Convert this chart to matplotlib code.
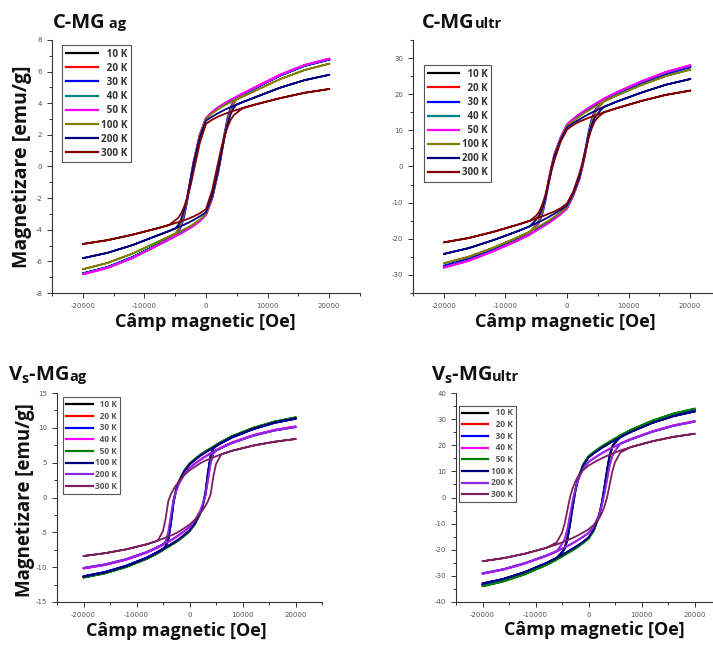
import matplotlib.pyplot as plt
from matplotlib.ticker import MultipleLocator

plt.rcParams['font.family'] = ['Open Sans', 'DejaVu Sans']
plt.rcParams['axes.unicode_minus'] = False
plt.rcParams['mathtext.fontset'] = 'custom'
plt.rcParams['mathtext.rm'] = 'Open Sans'
plt.rcParams['mathtext.bf'] = 'Open Sans:bold'

# field values of the descending branch (Oe); the returning branch is its mirror image
field = [20000, 16000, 12000, 8000, 6000, 5000, 4000, 3000, 2000, 1000, 0,
         -1000, -2000, -2500, -3000, -3500, -4000, -4500, -5000, -6000,
         -8000, -12000, -16000, -20000]

labels = ["10 K", "20 K", "30 K", "40 K", "50 K", "100 K", "200 K", "300 K"]
colors_c = ["black", "#ff0000", "#0000ff", "#008080", "#ff00ff", "#808000", "#000080", "#800000"]
colors_v = ["black", "#ff0000", "#0000ff", "#ff00ff", "#008000", "#000080", "#8a2be2", "#7b1f5e"]

# C-MG ag, magnetization on the descending branch (emu/g)
c_ag_10 = [6.80, 6.40, 5.78, 5.00, 4.60, 4.40, 4.20, 3.98, 3.74, 3.44, 3.05, 2.00, 0.30, -0.80, -1.90, -2.90, -3.60, -4.10, -4.40, -4.60, -5.00, -5.78, -6.40, -6.80]
c_ag_20 = [6.78, 6.38, 5.76, 4.98, 4.58, 4.38, 4.18, 3.96, 3.72, 3.42, 3.04, 2.02, 0.32, -0.78, -1.88, -2.88, -3.58, -4.08, -4.38, -4.58, -4.98, -5.76, -6.38, -6.78]
c_ag_30 = [6.76, 6.36, 5.74, 4.96, 4.56, 4.36, 4.16, 3.95, 3.71, 3.40, 3.00, 1.90, 0.10, -1.00, -2.10, -3.10, -3.75, -4.15, -4.36, -4.56, -4.96, -5.74, -6.36, -6.76]
c_ag_40 = [6.79, 6.39, 5.77, 4.99, 4.59, 4.39, 4.19, 3.97, 3.73, 3.43, 3.05, 2.01, 0.31, -0.79, -1.89, -2.89, -3.59, -4.09, -4.39, -4.59, -4.99, -5.77, -6.39, -6.79]
c_ag_50 = [6.82, 6.42, 5.80, 5.02, 4.62, 4.42, 4.22, 4.00, 3.76, 3.46, 3.07, 2.03, 0.33, -0.77, -1.87, -2.87, -3.57, -4.07, -4.42, -4.62, -5.02, -5.80, -6.42, -6.82]
c_ag_100 = [6.50, 6.10, 5.52, 4.80, 4.43, 4.25, 4.06, 3.86, 3.63, 3.35, 3.00, 1.95, 0.25, -0.85, -1.90, -2.85, -3.50, -3.95, -4.25, -4.43, -4.80, -5.52, -6.10, -6.50]
c_ag_200 = [5.80, 5.46, 4.98, 4.38, 4.08, 3.92, 3.76, 3.58, 3.38, 3.15, 2.90, 1.85, 0.20, -0.85, -1.85, -2.70, -3.30, -3.70, -3.92, -4.08, -4.38, -4.98, -5.46, -5.80]
c_ag_300 = [4.90, 4.66, 4.32, 3.92, 3.70, 3.58, 3.46, 3.32, 3.16, 2.96, 2.70, 1.50, -0.30, -1.20, -1.90, -2.50, -2.95, -3.25, -3.40, -3.70, -3.92, -4.32, -4.66, -4.90]

# C-MG ultr
c_ul_10 = [27.8, 25.9, 23.3, 20.3, 18.6, 17.6, 16.6, 15.5, 14.3, 13.0, 11.5, 8.0, 3.5, 0.0, -4.0, -8.5, -12.5, -15.0, -16.5, -18.6, -20.3, -23.3, -25.9, -27.8]
c_ul_20 = [27.7, 25.8, 23.2, 20.2, 18.5, 17.5, 16.5, 15.4, 14.2, 12.9, 11.4, 7.9, 3.4, -0.1, -4.1, -8.6, -12.6, -15.0, -16.4, -18.5, -20.2, -23.2, -25.8, -27.7]
c_ul_30 = [27.5, 25.6, 23.0, 20.0, 18.3, 17.3, 16.3, 15.2, 14.0, 12.7, 11.2, 7.5, 2.8, -0.8, -5.0, -9.5, -13.2, -15.4, -16.6, -18.3, -20.0, -23.0, -25.6, -27.5]
c_ul_40 = [27.9, 26.0, 23.4, 20.4, 18.7, 17.7, 16.7, 15.6, 14.4, 13.1, 11.6, 8.1, 3.6, 0.1, -3.9, -8.4, -12.4, -15.0, -16.6, -18.7, -20.4, -23.4, -26.0, -27.9]
c_ul_50 = [28.0, 26.1, 23.5, 20.5, 18.8, 17.8, 16.8, 15.7, 14.5, 13.2, 11.7, 8.2, 3.7, 0.2, -3.8, -8.3, -12.3, -15.0, -16.7, -18.8, -20.5, -23.5, -26.1, -28.0]
c_ul_100 = [26.8, 25.0, 22.5, 19.6, 18.0, 17.0, 16.0, 15.0, 13.8, 12.6, 11.2, 7.8, 3.3, -0.2, -4.2, -8.6, -12.4, -14.7, -16.0, -18.0, -19.6, -22.5, -25.0, -26.8]
c_ul_200 = [24.2, 22.6, 20.4, 17.9, 16.5, 15.7, 14.9, 14.0, 13.0, 12.0, 10.8, 7.5, 3.0, -0.5, -4.5, -8.5, -11.5, -13.5, -14.7, -16.5, -17.9, -20.4, -22.6, -24.2]
c_ul_300 = [21.0, 19.8, 18.1, 16.1, 15.0, 14.4, 13.8, 13.1, 12.4, 11.5, 10.2, 7.0, 2.0, -1.0, -4.5, -7.8, -10.5, -12.5, -13.6, -15.0, -16.1, -18.1, -19.8, -21.0]

# Vs-MG ag
v_ag_10 = [11.40, 10.80, 9.90, 8.70, 7.90, 7.45, 7.00, 6.55, 6.05, 5.45, 4.80, 3.80, 2.30, 1.20, -0.50, -3.50, -6.00, -7.00, -7.45, -7.90, -8.70, -9.90, -10.80, -11.40]
v_ag_20 = [11.45, 10.85, 9.95, 8.75, 7.95, 7.50, 7.05, 6.60, 6.10, 5.50, 4.85, 3.85, 2.35, 1.25, -0.45, -3.45, -5.95, -7.00, -7.50, -7.95, -8.75, -9.95, -10.85, -11.45]
v_ag_30 = [11.30, 10.70, 9.80, 8.60, 7.80, 7.35, 6.90, 6.45, 5.95, 5.35, 4.70, 3.70, 2.20, 1.00, -0.80, -3.80, -6.10, -6.95, -7.35, -7.80, -8.60, -9.80, -10.70, -11.30]
v_ag_40 = [10.20, 9.70, 8.95, 7.90, 7.20, 6.80, 6.40, 5.95, 5.45, 4.90, 4.30, 3.40, 2.00, 1.00, -0.20, -2.50, -5.00, -6.30, -6.80, -7.20, -7.90, -8.95, -9.70, -10.20]
v_ag_50 = [11.50, 10.90, 10.00, 8.80, 8.00, 7.55, 7.10, 6.65, 6.15, 5.55, 4.90, 3.90, 2.40, 1.30, -0.40, -3.40, -5.90, -7.05, -7.55, -8.00, -8.80, -10.00, -10.90, -11.50]
v_ag_100 = [11.35, 10.75, 9.85, 8.65, 7.85, 7.40, 6.95, 6.50, 6.00, 5.40, 4.75, 3.75, 2.25, 1.15, -0.55, -3.55, -6.00, -7.00, -7.40, -7.85, -8.65, -9.85, -10.75, -11.35]
v_ag_200 = [10.10, 9.60, 8.85, 7.80, 7.10, 6.70, 6.30, 5.85, 5.35, 4.80, 4.20, 3.30, 1.90, 0.90, -0.30, -2.60, -5.00, -6.30, -6.70, -7.10, -7.80, -8.85, -9.60, -10.10]
v_ag_300 = [8.40, 8.00, 7.45, 6.70, 6.20, 5.90, 5.60, 5.30, 4.90, 4.40, 3.90, 3.20, 2.30, 1.80, 1.20, 0.50, -0.50, -3.00, -4.80, -6.20, -6.70, -7.45, -8.00, -8.40]

# Vs-MG ultr
v_ul_10 = [33.5, 31.6, 28.9, 25.4, 23.3, 22.2, 21.0, 19.8, 18.5, 17.1, 15.5, 12.5, 7.0, 2.5, -3.5, -10.0, -16.0, -19.5, -21.0, -23.3, -25.4, -28.9, -31.6, -33.5]
v_ul_20 = [33.6, 31.7, 29.0, 25.5, 23.4, 22.3, 21.1, 19.9, 18.6, 17.2, 15.6, 12.6, 7.1, 2.6, -3.4, -9.9, -15.9, -19.4, -21.1, -23.4, -25.5, -29.0, -31.7, -33.6]
v_ul_30 = [33.3, 31.4, 28.7, 25.2, 23.1, 22.0, 20.8, 19.6, 18.3, 16.9, 15.3, 12.2, 6.5, 2.0, -4.2, -10.8, -16.5, -19.6, -21.0, -23.1, -25.2, -28.7, -31.4, -33.3]
v_ul_40 = [29.2, 27.6, 25.3, 22.4, 20.7, 19.7, 18.7, 17.6, 16.4, 15.1, 13.7, 11.2, 6.7, 3.2, -1.3, -6.8, -12.3, -15.9, -17.8, -20.7, -22.4, -25.3, -27.6, -29.2]
v_ul_50 = [34.0, 32.1, 29.4, 25.9, 23.8, 22.7, 21.5, 20.3, 19.0, 17.5, 15.9, 12.8, 7.3, 2.8, -3.2, -9.7, -15.7, -19.6, -21.5, -23.8, -25.9, -29.4, -32.1, -34.0]
v_ul_100 = [32.9, 31.1, 28.5, 25.1, 23.1, 22.0, 20.8, 19.6, 18.3, 16.9, 15.3, 12.3, 6.8, 2.3, -3.7, -10.2, -16.1, -19.4, -20.9, -23.1, -25.1, -28.5, -31.1, -32.9]
v_ul_200 = [29.0, 27.4, 25.1, 22.2, 20.5, 19.5, 18.5, 17.4, 16.2, 14.9, 13.5, 11.0, 6.5, 3.0, -1.5, -7.0, -12.5, -16.0, -17.8, -20.5, -22.2, -25.1, -27.4, -29.0]
v_ul_300 = [24.4, 23.2, 21.5, 19.3, 18.0, 17.2, 16.4, 15.5, 14.5, 13.4, 12.2, 10.5, 8.0, 6.0, 3.5, 0.0, -5.0, -10.0, -13.5, -17.2, -19.3, -21.5, -23.2, -24.4]

W, H = 713, 649
fig = plt.figure(figsize=(W / 100, H / 100), dpi=100)


def px_axes(left, top, right, bottom):
    # axes box given in pixels from the top-left corner of the figure
    return fig.add_axes([left / W, (H - bottom) / H, (right - left) / W, (bottom - top) / H])


def draw_panel(ax, loops, colors, ylim, ymajor, legend_pos, legend_size, text_color):
    for m, c, lab in zip(loops, colors, labels):
        h_loop = field + [-h for h in field]
        m_loop = m + [-v for v in m]
        ax.plot(h_loop, m_loop, color=c, lw=1.3, label=lab)
    ax.set_xlim(-25000, 25000)
    ax.set_ylim(*ylim)
    ax.xaxis.set_major_locator(MultipleLocator(10000))
    ax.xaxis.set_minor_locator(MultipleLocator(5000))
    ax.yaxis.set_major_locator(MultipleLocator(ymajor))
    ax.yaxis.set_minor_locator(MultipleLocator(ymajor / 2))
    for s in ["top", "right"]:
        ax.spines[s].set_visible(False)
    for s in ["left", "bottom"]:
        ax.spines[s].set_linewidth(0.8)
        ax.spines[s].set_color("#333333")
    ax.tick_params(which="both", direction="out", width=0.7, color="#333333",
                   labelsize=5, labelcolor="#555555")
    ax.tick_params(which="major", length=3.5)
    ax.tick_params(which="minor", length=2)
    for t in ax.get_xticklabels() + ax.get_yticklabels():
        t.set_family("DejaVu Sans")
    padded = [lab if len(lab) == 5 else "\u2007" + lab for lab in labels]
    leg = ax.legend(ax.get_lines(), padded, loc="upper left", bbox_to_anchor=legend_pos,
                    fancybox=False, edgecolor="#555555", framealpha=1,
                    handlelength=3.2, handletextpad=0.3, borderpad=0.35,
                    labelspacing=0.32, borderaxespad=0,
                    prop={"weight": "bold", "size": legend_size})
    leg.get_frame().set_linewidth(0.8)
    for t in leg.get_texts():
        t.set_color(text_color)
    for ln in leg.get_lines():
        ln.set_linewidth(1.6)


def draw_title(x, y, parts):
    # title pieces set one after another, each with its own font size
    renderer = fig.canvas.get_renderer()
    for text, size in parts:
        t = fig.text(x / W, (H - y) / H, text, fontsize=size, fontweight="bold",
                     ha="left", va="baseline", color="#111111")
        x = t.get_window_extent(renderer).x1


ax1 = px_axes(52, 40, 360, 293)
draw_panel(ax1, [c_ag_10, c_ag_20, c_ag_30, c_ag_40, c_ag_50, c_ag_100, c_ag_200, c_ag_300],
           colors_c, (-8, 8), 2, (0.033, 0.98), 7.2, "#333333")

ax2 = px_axes(413, 40, 721, 293)
draw_panel(ax2, [c_ul_10, c_ul_20, c_ul_30, c_ul_40, c_ul_50, c_ul_100, c_ul_200, c_ul_300],
           colors_c, (-35, 35), 10, (0.037, 0.90), 7.0, "#333333")

ax3 = px_axes(57, 393, 322, 602)
draw_panel(ax3, [v_ag_10, v_ag_20, v_ag_30, v_ag_40, v_ag_50, v_ag_100, v_ag_200, v_ag_300],
           colors_v, (-15, 15), 5, (0.023, 0.98), 6.0, "#555555")

ax4 = px_axes(456, 393, 721, 602)
draw_panel(ax4, [v_ul_10, v_ul_20, v_ul_30, v_ul_40, v_ul_50, v_ul_100, v_ul_200, v_ul_300],
           colors_v, (-40, 40), 10, (0.011, 0.94), 6.0, "#555555")

# axis titles
label_kw = dict(fontweight="bold", color="#111111", ha="center", va="center")
fig.text(22 / W, (H - 167) / H, "Magnetizare [emu/g]", rotation=90, fontsize=14, **label_kw)
fig.text(25 / W, (H - 500) / H, "Magnetizare [emu/g]", rotation=90, fontsize=13.5, **label_kw)
fig.text(205 / W, (H - 322) / H, "Câmp magnetic [Oe]", fontsize=13, **label_kw)
fig.text(565 / W, (H - 322) / H, "Câmp magnetic [Oe]", fontsize=13, **label_kw)
fig.text(176 / W, (H - 631) / H, "Câmp magnetic [Oe]", fontsize=13, **label_kw)
fig.text(594 / W, (H - 630) / H, "Câmp magnetic [Oe]", fontsize=13, **label_kw)

# panel names
draw_title(53, 28, [("C-MG", 14.5), ("\u2009ag", 10.5)])
draw_title(422, 28, [("C-MG", 14.5), ("ultr", 10.5)])
draw_title(8, 381, [(r"V$_\mathbf{s}$-MG", 14.5), ("ag", 10.5)])
draw_title(431, 381, [(r"V$_\mathbf{s}$-MG", 14.5), ("ultr", 10.5)])

fig.savefig("out.png", dpi=100)
